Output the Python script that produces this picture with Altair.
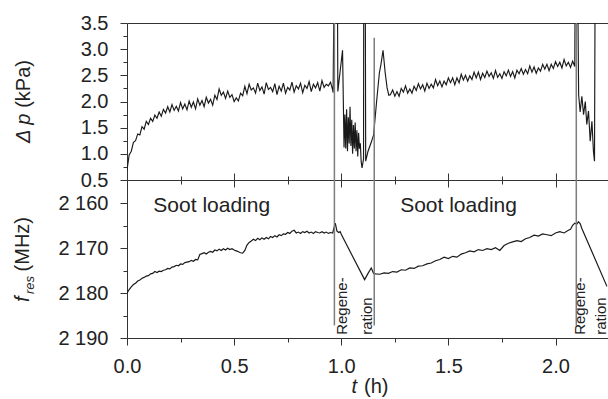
import altair as alt
import pandas as pd

FONT = "Liberation Sans"

# ---------------- data: pressure drop (kPa) ----------------
t_load1 = [0.00, 0.01, 0.02, 0.03, 0.04, 0.05, 0.06, 0.07, 0.08, 0.09,
           0.10, 0.11, 0.12, 0.13, 0.14, 0.15, 0.16, 0.17, 0.18, 0.19,
           0.20, 0.21, 0.22, 0.23, 0.24, 0.25, 0.26, 0.27, 0.28, 0.29,
           0.30, 0.31, 0.32, 0.33, 0.34, 0.35, 0.36, 0.37, 0.38, 0.39,
           0.40, 0.41, 0.42, 0.43, 0.44, 0.45, 0.46, 0.47, 0.48, 0.49,
           0.50, 0.51, 0.52, 0.53, 0.54, 0.55, 0.56, 0.57, 0.58, 0.59,
           0.60, 0.61, 0.62, 0.63, 0.64, 0.65, 0.66, 0.67, 0.68, 0.69,
           0.70, 0.71, 0.72, 0.73, 0.74, 0.75, 0.76, 0.77, 0.78, 0.79,
           0.80, 0.81, 0.82, 0.83, 0.84, 0.85, 0.86, 0.87, 0.88, 0.89,
           0.90, 0.91, 0.92, 0.93, 0.94, 0.95, 0.96]
dp_load1 = [0.69, 0.98, 1.05, 1.22, 1.25, 1.38, 1.36, 1.52, 1.47, 1.62,
            1.56, 1.68, 1.62, 1.74, 1.68, 1.80, 1.72, 1.85, 1.78, 1.90,
            1.80, 1.94, 1.83, 1.91, 1.82, 1.98, 1.86, 1.95, 1.84, 2.01,
            1.89, 1.99, 1.86, 2.05, 1.93, 2.02, 1.90, 2.08, 1.97, 2.04,
            1.93, 2.12, 2.04, 2.24, 2.12, 2.18, 2.06, 2.20, 2.08, 2.13,
            2.00, 2.07, 2.01, 2.16, 2.11, 2.29, 2.15, 2.33, 2.22, 2.26,
            2.16, 2.35, 2.21, 2.28, 2.14, 2.36, 2.23, 2.27, 2.19, 2.34,
            2.13, 2.29, 2.20, 2.35, 2.16, 2.27, 2.22, 2.37, 2.18, 2.30,
            2.24, 2.35, 2.17, 2.31, 2.25, 2.38, 2.19, 2.33, 2.26, 2.36,
            2.20, 2.40, 2.27, 2.33, 2.30, 2.37, 2.22]

t_regen1 = [0.962, 0.967, 0.982, 0.984, 1.006, 1.013, 1.017, 1.021, 1.025, 1.029,
            1.033, 1.037, 1.041, 1.045, 1.049, 1.053, 1.057, 1.061, 1.065, 1.069,
            1.073, 1.077, 1.081, 1.085, 1.089, 1.093, 1.097, 1.104, 1.105, 1.112,
            1.114, 1.125, 1.140, 1.151, 1.165, 1.178, 1.185, 1.195, 1.205, 1.214,
            1.222, 1.229]
dp_regen1 = [2.17, 4.50, 4.50, 2.19, 2.98, 1.12, 1.75, 1.10, 1.85, 1.05,
             1.70, 1.20, 1.90, 1.15, 1.65, 1.00, 1.55, 1.10, 1.60, 1.05,
             1.45, 0.95, 1.40, 1.10, 1.20, 0.85, 0.73, 0.90, 4.50, 4.50,
             0.86, 1.05, 1.22, 1.36, 2.00, 2.55, 2.70, 2.98, 2.55, 2.26,
             2.12, 2.13]

t_load2 = [1.24, 1.25, 1.26, 1.27, 1.28, 1.29, 1.30, 1.31, 1.32, 1.33,
           1.34, 1.35, 1.36, 1.37, 1.38, 1.39, 1.40, 1.41, 1.42, 1.43,
           1.44, 1.45, 1.46, 1.47, 1.48, 1.49, 1.50, 1.51, 1.52, 1.53,
           1.54, 1.55, 1.56, 1.57, 1.58, 1.59, 1.60, 1.61, 1.62, 1.63,
           1.64, 1.65, 1.66, 1.67, 1.68, 1.69, 1.70, 1.71, 1.72, 1.73,
           1.74, 1.75, 1.76, 1.77, 1.78, 1.79, 1.80, 1.81, 1.82, 1.83,
           1.84, 1.85, 1.86, 1.87, 1.88, 1.89, 1.90, 1.91, 1.92, 1.93,
           1.94, 1.95, 1.96, 1.97, 1.98, 1.99, 2.00, 2.01, 2.02, 2.03,
           2.04, 2.05, 2.06, 2.07, 2.08, 2.09]
dp_load2 = [2.22, 2.10, 2.19, 2.10, 2.25, 2.18, 2.30, 2.16, 2.24, 2.16,
            2.29, 2.21, 2.34, 2.24, 2.32, 2.20, 2.35, 2.25, 2.33, 2.26,
            2.42, 2.30, 2.39, 2.28, 2.39, 2.32, 2.45, 2.36, 2.45, 2.32,
            2.45, 2.36, 2.52, 2.41, 2.50, 2.39, 2.49, 2.42, 2.56, 2.45,
            2.56, 2.42, 2.54, 2.46, 2.58, 2.48, 2.55, 2.44, 2.59, 2.46,
            2.53, 2.44, 2.57, 2.49, 2.60, 2.48, 2.57, 2.45, 2.60, 2.53,
            2.63, 2.52, 2.61, 2.53, 2.68, 2.56, 2.66, 2.54, 2.64, 2.58,
            2.71, 2.62, 2.71, 2.59, 2.71, 2.63, 2.76, 2.67, 2.75, 2.64,
            2.80, 2.68, 2.75, 2.65, 2.77, 2.67]

t_regen2 = [2.092, 2.103, 2.108, 2.115, 2.123, 2.131, 2.139, 2.146, 2.154, 2.162,
            2.170, 2.177, 2.182, 2.185, 2.26]
dp_regen2 = [4.50, 4.50, 2.13, 1.80, 2.10, 1.75, 2.00, 1.56, 1.82, 1.24,
             1.62, 1.05, 0.86, 4.50, 4.50]

# ---------------- data: resonance frequency (MHz) ----------------
f_load1 = [2180.0, 2179.2, 2178.6, 2178.1, 2177.8, 2177.3, 2177.1, 2176.7, 2176.5, 2176.2,
           2176.1, 2175.7, 2175.6, 2175.2, 2175.4, 2175.1, 2175.2, 2174.9, 2174.8, 2174.5,
           2174.6, 2174.2, 2174.1, 2173.8, 2173.9, 2173.5, 2173.6, 2173.2, 2173.1, 2173.0,
           2172.7, 2172.9, 2172.5, 2172.6, 2171.4, 2171.2, 2171.0, 2171.3, 2170.9, 2170.7,
           2170.9, 2170.4, 2170.6, 2170.2, 2170.5, 2170.1, 2170.4, 2170.0, 2170.3, 2170.1,
           2170.4, 2170.6, 2170.8, 2171.0, 2171.1, 2170.5, 2169.3, 2168.7, 2168.4, 2168.0,
           2168.3, 2167.8, 2168.1, 2167.7, 2168.0, 2167.6, 2167.9, 2167.4, 2167.6, 2167.2,
           2167.5, 2167.0, 2167.2, 2166.8, 2166.9, 2166.5, 2166.7, 2166.2, 2166.0, 2166.6,
           2166.4, 2166.7, 2166.3, 2166.5, 2166.2, 2166.6, 2166.4, 2166.7, 2166.3, 2166.5,
           2166.6, 2166.3, 2166.6, 2166.4, 2166.7, 2166.5, 2166.6]

t_f_regen1 = [0.972, 0.980, 0.988, 0.995, 1.000, 1.109, 1.125, 1.140, 1.151]
f_regen1 = [2164.4, 2166.2, 2166.5, 2166.3, 2166.9, 2177.0, 2175.6, 2174.4, 2175.6]

t_f_load2 = [1.16, 1.18, 1.20, 1.22, 1.24, 1.26, 1.28, 1.30, 1.32, 1.34,
             1.36, 1.38, 1.40, 1.42, 1.44, 1.46, 1.48, 1.50, 1.52, 1.54,
             1.56, 1.58, 1.60, 1.62, 1.64, 1.66, 1.68, 1.70, 1.72, 1.74,
             1.76, 1.78, 1.80, 1.82, 1.84, 1.86, 1.88, 1.90, 1.92, 1.94,
             1.96, 1.98, 2.00, 2.02, 2.04, 2.06, 2.07, 2.08, 2.09, 2.10]
f_load2 = [2175.7, 2175.8, 2175.5, 2175.6, 2175.2, 2175.3, 2174.8, 2174.9, 2174.4, 2174.5,
           2174.0, 2173.9, 2173.5, 2173.3, 2172.8, 2172.5, 2172.0, 2172.3, 2171.8, 2172.0,
           2171.3, 2171.0, 2170.6, 2170.8, 2170.3, 2170.5, 2170.1, 2170.3, 2169.9, 2170.5,
           2169.4, 2168.9, 2168.6, 2168.3, 2168.5, 2167.9, 2167.6, 2167.1, 2167.3, 2166.8,
           2167.0, 2167.2, 2166.6, 2166.3, 2166.6, 2166.0, 2165.8, 2164.9, 2164.4, 2164.6]

t_f_regen2 = [2.107, 2.115, 2.123, 2.24]
f_regen2 = [2164.1, 2164.5, 2165.6, 2178.5]

# ---------------- annotations ----------------
sep_t = [0.968, 1.154, 2.097]
sep_dp_top = [3.5, 3.22, 3.5]
sep_dp_bottom = [0.5, 0.5, 0.5]
sep_f_top = [2154.8, 2154.8, 2154.8]
sep_f_bottom = [2187.2, 2187.2, 2187.2]

soot_t = [0.123, 1.275]
soot_f = [2161.9, 2161.9]
soot_label = ["Soot loading", "Soot loading"]

regen_t = [1.003, 1.118, 2.112, 2.210]
regen_f = [2189.3, 2189.3, 2189.3, 2189.3]
regen_label = ["Regene-", "ration", "Regene-", "ration"]

x_major = [0.0, 0.5, 1.0, 1.5, 2.0]
x_minor = [0.25, 0.75, 1.25, 1.75]
dp_major = [0.5, 1.0, 1.5, 2.0, 2.5, 3.0, 3.5]
dp_minor = [0.75, 1.25, 1.75, 2.25, 2.75, 3.25]
f_major = [2160, 2170, 2180, 2190]
f_minor = [2165, 2175, 2185]

X_DOMAIN = [0, 2.245]
DP_DOMAIN = [0.5, 3.5]
F_DOMAIN = [2154.8, 2190]

W = 481
H_TOP = 157
H_BOT = 158

dp_df = pd.DataFrame({
    "t": t_load1 + t_regen1 + t_load2 + t_regen2,
    "dp": dp_load1 + dp_regen1 + dp_load2 + dp_regen2,
})
f_df = pd.DataFrame({
    "t": t_load1 + t_f_regen1 + t_f_load2 + t_f_regen2,
    "f": f_load1 + f_regen1 + f_load2 + f_regen2,
})
sep_df = pd.DataFrame({"t": sep_t, "dp_top": sep_dp_top, "dp_bot": sep_dp_bottom,
                       "f_top": sep_f_top, "f_bot": sep_f_bottom})
soot_df = pd.DataFrame({"t": soot_t, "f": soot_f, "label": soot_label})
regen_df = pd.DataFrame({"t": regen_t, "f": regen_f, "label": regen_label})
one = pd.DataFrame({"k": [0]})

LINE_COLOR = "#1a1a1a"
SEP_COLOR = "#7d7d7d"
TXT = "#222222"


def xax(values, size, orient="bottom", labels=False):
    kw = dict(orient=orient, values=values, tickSize=size, labels=labels,
              domain=False, grid=False, title=None)
    if labels:
        kw.update(format=".1f", labelPadding=11, labelFlush=False, labelAlign="center")
    return alt.Axis(**kw)


def yax(values, size, labels=False, label_expr=None, fmt=None):
    kw = dict(orient="left", values=values, tickSize=size, labels=labels,
              domain=False, grid=False, title=None)
    if labels:
        kw.update(labelPadding=12)
        if fmt:
            kw.update(format=fmt)
        if label_expr:
            kw.update(labelExpr=label_expr)
    return alt.Axis(**kw)


def title_text(txt, x, y, align, size=20, style="normal"):
    return alt.Chart(one).mark_text(
        text=txt, angle=270, align=align, baseline="alphabetic",
        font=FONT, fontSize=size, fontStyle=style, color=TXT
    ).encode(x=alt.value(x), y=alt.value(y))


# ---------------- top panel ----------------
dp_line = alt.Chart(dp_df).mark_line(color=LINE_COLOR, strokeWidth=1.15, clip=True).encode(
    x=alt.X("t:Q", scale=alt.Scale(domain=X_DOMAIN), axis=xax(x_major[1:], 7)),
    y=alt.Y("dp:Q", scale=alt.Scale(domain=DP_DOMAIN), axis=yax(dp_major, 7, True, fmt=".1f")),
)
dp_sep = alt.Chart(sep_df).mark_rule(color=SEP_COLOR, strokeWidth=1.5).encode(
    x=alt.X("t:Q", scale=alt.Scale(domain=X_DOMAIN), axis=xax(x_minor, 4)),
    y=alt.Y("dp_top:Q", scale=alt.Scale(domain=DP_DOMAIN), axis=yax(dp_minor, 4)),
    y2="dp_bot:Q",
)
top = alt.layer(
    dp_line, dp_sep,
    title_text("Δ p", -96.7, 120, "left", style="italic"),
    title_text("(kPa)", -96.7, 37, "right"),
).resolve_axis(x="independent", y="independent").properties(width=W, height=H_TOP)

# ---------------- bottom panel ----------------
f_line = alt.Chart(f_df).mark_line(color=LINE_COLOR, strokeWidth=1.2, clip=True).encode(
    x=alt.X("t:Q", scale=alt.Scale(domain=X_DOMAIN), axis=xax(x_major, 7, labels=True)),
    y=alt.Y("f:Q", scale=alt.Scale(domain=F_DOMAIN, reverse=True),
            axis=yax(f_major, 7, True,
                     label_expr="floor(datum.value/1000) + ' ' + format(datum.value % 1000, '03d')")),
)
f_sep = alt.Chart(sep_df).mark_rule(color=SEP_COLOR, strokeWidth=1.5).encode(
    x=alt.X("t:Q", scale=alt.Scale(domain=X_DOMAIN), axis=xax(x_minor, 4)),
    y=alt.Y("f_top:Q", scale=alt.Scale(domain=F_DOMAIN, reverse=True), axis=yax(f_minor, 4)),
    y2="f_bot:Q",
)
soot = alt.Chart(soot_df).mark_text(
    align="left", baseline="alphabetic", font=FONT, fontSize=21, color=TXT
).encode(
    x=alt.X("t:Q", scale=alt.Scale(domain=X_DOMAIN), axis=xax(x_major[1:], 7, orient="top")),
    y=alt.Y("f:Q", scale=alt.Scale(domain=F_DOMAIN, reverse=True), axis=None),
    text="label:N",
)
regen = alt.Chart(regen_df).mark_text(
    align="left", baseline="middle", angle=270, font=FONT, fontSize=15, color=TXT
).encode(
    x=alt.X("t:Q", scale=alt.Scale(domain=X_DOMAIN), axis=xax(x_minor, 4, orient="top")),
    y=alt.Y("f:Q", scale=alt.Scale(domain=F_DOMAIN, reverse=True), axis=None),
    text="label:N",
)

x_t = alt.Chart(one).mark_text(text="t", align="right", baseline="alphabetic", font=FONT,
                               fontSize=20, fontStyle="italic", color=TXT
                               ).encode(x=alt.value(230), y=alt.value(213))
x_h = alt.Chart(one).mark_text(text="(h)", align="left", baseline="alphabetic", font=FONT,
                               fontSize=20, color=TXT
                               ).encode(x=alt.value(237), y=alt.value(213))

bottom = alt.layer(
    f_line, f_sep, soot, regen,
    title_text("f", -97.7, 122, "left", style="italic"),
    title_text("res", -93.5, 114, "left", size=13, style="italic"),
    title_text("(MHz)", -97.7, 37, "right"),
    x_t, x_h,
).resolve_axis(x="independent", y="independent").properties(width=W, height=H_BOT)

chart = alt.vconcat(top, bottom, spacing=0, bounds="flush").properties(
    autosize=alt.AutoSizeParams(type="none"),
    padding={"left": 127, "top": 23, "right": 0, "bottom": 399 - 23},
).configure_view(
    stroke="#333333", strokeWidth=1
).configure_axis(
    labelFont=FONT, labelFontSize=20, labelColor=TXT,
    tickColor="#333333", tickWidth=1, domainColor="#333333",
)

chart.save("out.html", embed_options={"renderer": "svg", "actions": False})
